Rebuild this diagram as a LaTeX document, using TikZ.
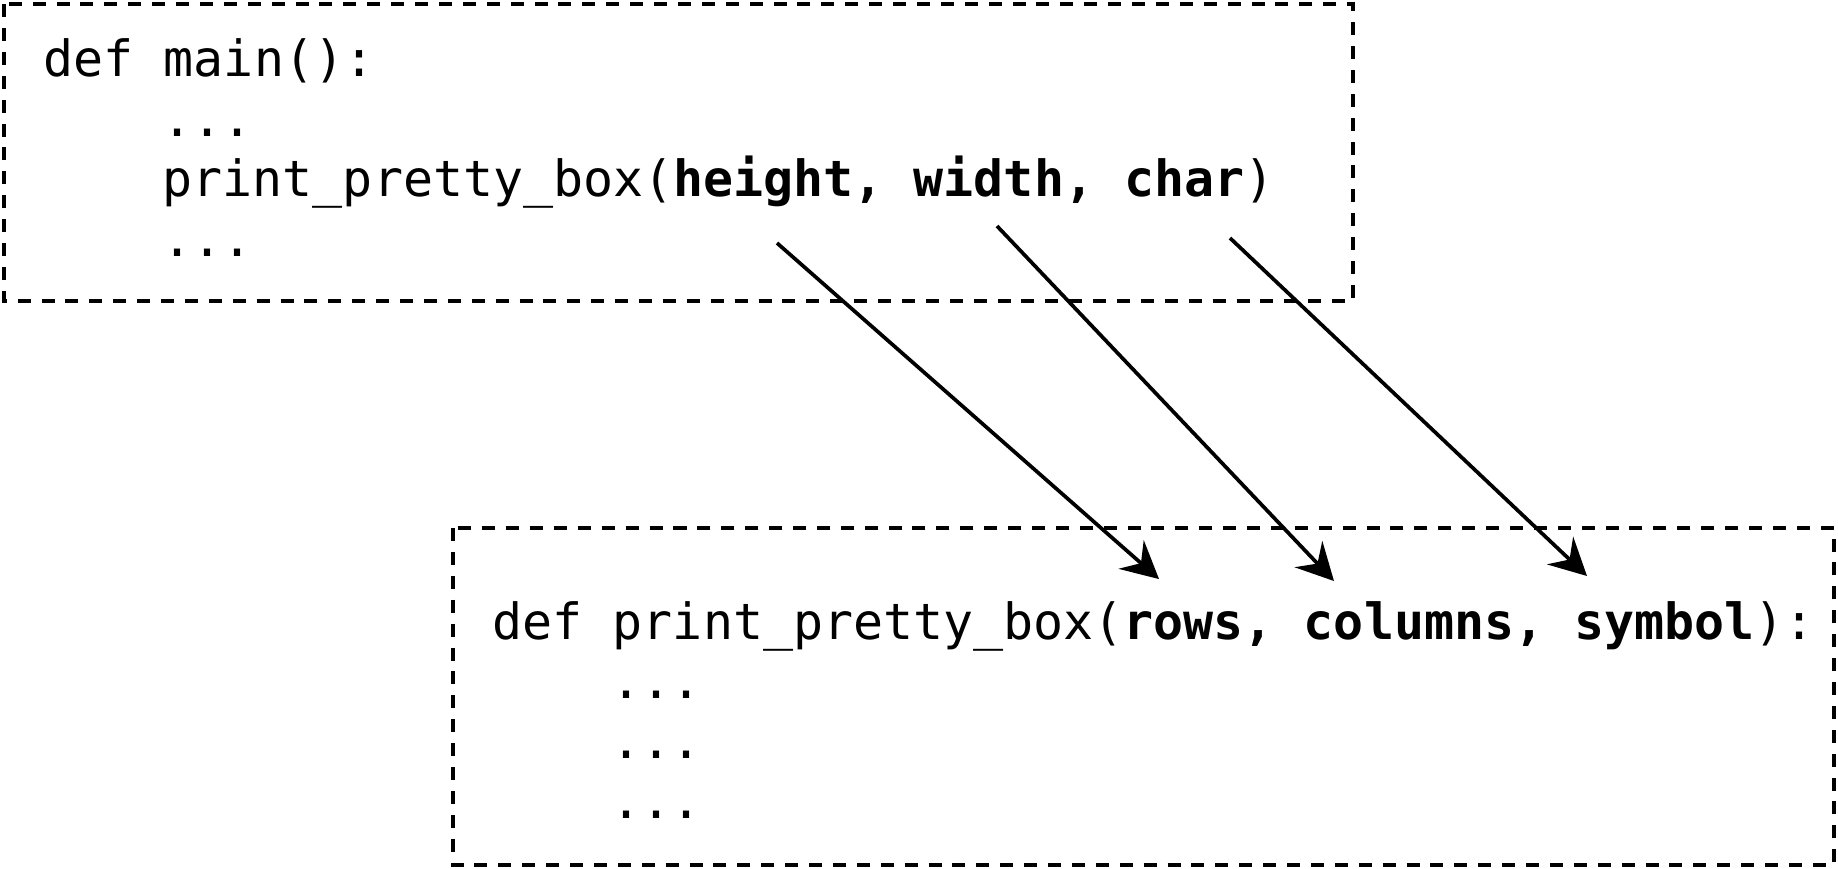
\documentclass[tikz,border=0pt]{standalone}
\usepackage{fontspec}
\setmonofont{DejaVu Sans Mono}
\usetikzlibrary{arrows.meta, positioning}

\tikzset{
   code/.style={anchor=base west, inner sep=0pt, font=\ttfamily\fontsize{14.2}{17}\selectfont},
   codebox/.style={draw, line width=1.35pt, dash pattern=on 3.7pt off 3.1pt},
   pass/.style={-{Stealth[length=0.37cm, width=0.38cm, inset=0.13cm]}, line width=1.05pt}
}

\begin{document}
\begin{tikzpicture}[scale=1.0]
            \useasboundingbox (0,0) rectangle (18.38,-8.68);
            % Caller (dashed box)
            \draw[codebox] (0.04,-0.04) rectangle (13.53,-3.01);
            \node[code] (mainhead) at (0.43,-0.76) {def main():};
            \node[code] (maindotsA) at (1.62,-1.36) {...};
            \node[code] (maincall) at (1.62,-1.96) {print\_pretty\_box(\textbf{height, width, char})};
            \node[code] (maindotsB) at (1.62,-2.56) {...};
            % Callee (dashed box)
            \draw[codebox] (4.53,-5.28) rectangle (18.34,-8.65);
            \node[code] (funchead) at (4.92,-6.39) {def print\_pretty\_box(\textbf{rows, columns, symbol}):};
            \node[code] (funcdotsA) at (6.11,-6.98) {...};
            \node[code] (funcdotsB) at (6.11,-7.58) {...};
            \node[code] (funcdotsC) at (6.11,-8.18) {...};
            % Argument -> parameter
            \coordinate (argheight) at (7.77,-2.43);
            \coordinate (argwidth) at (9.97,-2.26);
            \coordinate (argchar) at (12.30,-2.38);
            \coordinate (parrows) at (11.59,-5.79);
            \coordinate (parcolumns) at (13.34,-5.81);
            \coordinate (parsymbol) at (15.87,-5.76);
            \draw[pass] (argheight) -- (parrows);
            \draw[pass] (argwidth) -- (parcolumns);
            \draw[pass] (argchar) -- (parsymbol);
         \end{tikzpicture}
\end{document}
